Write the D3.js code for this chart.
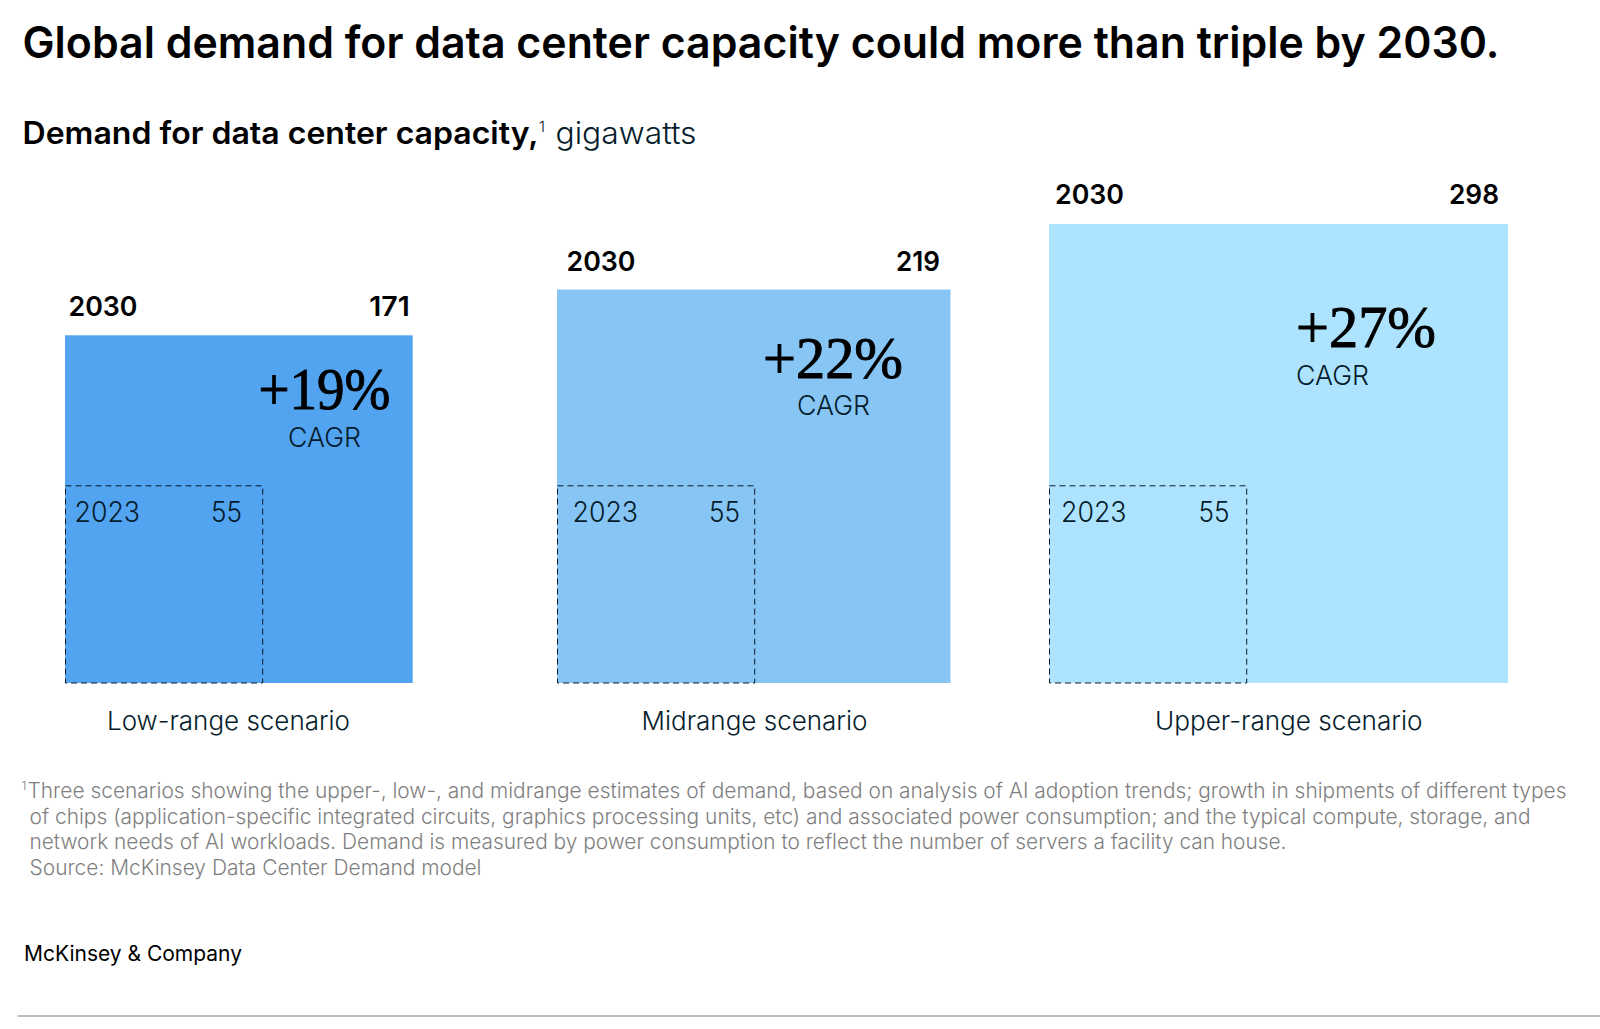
<!DOCTYPE html>
<html>
<head>
<meta charset="utf-8">
<title>Data center capacity</title>
<script src="https://cdn.jsdelivr.net/npm/d3@7"></script>
<style>
  html, body { margin: 0; padding: 0; background: #fff; }
  svg { display: block; }
  text { font-family: Inter, "Liberation Sans", sans-serif; fill: #051c2c; }
  text.heavy { fill: #000; }
</style>
</head>
<body>
<div id="chart"></div>
<script>
const scenarios = ['Low-range scenario', 'Midrange scenario', 'Upper-range scenario'];
const demand2030 = [171, 219, 298];
const demand2023 = [55, 55, 55];
const cagrLabels = ['+19%', '+22%', '+27%'];
const boxColors = ['#52a3f0', '#86c5f4', '#ade3ff'];
const footnoteLines = [
  'Three scenarios showing the upper-, low-, and midrange estimates of demand, based on analysis of AI adoption trends; growth in shipments of different types',
  'of chips (application-specific integrated circuits, graphics processing units, etc) and associated power consumption; and the typical compute, storage, and',
  'network needs of AI workloads. Demand is measured by power consumption to reflect the number of servers a facility can house.',
  'Source: McKinsey Data Center Demand model'
];

// label nudges per panel, the original places them by hand
const yearDx = [3.5, 9.5, 6];
const yearDy = [19, 19, 20];
const valueDx = [3, 10.5, 9];
const valueWidth = [40.5, 44, 50];
const cagrDx = [193.5, 206, 247];
const cagrWidth = [132, 140, 140];
const cagrDy = [74, 88.5, 123];
const cagrWordDx = [223, 240, 247];
const cagrWordDy = [112, 125.5, 161];
const startDx = [9.5, 15.5, 12];
const startValueDx = [177, 183, 180.5];
const scenarioDx = [42, 84.5, 106];
const scenarioWidth = [243, 226, 267.5];

const width = 1600;
const height = 1029;
const baseY = 683;

// Area encodes the value, so the side of each square follows a sqrt scale.
const side = d3.scaleSqrt().domain([0, 298]).range([0, 459]);
const left = d3.scalePoint().domain(scenarios).range([65, 1049]);

const svg = d3.select('#chart').append('svg')
  .attr('width', width)
  .attr('height', height)
  .attr('viewBox', [0, 0, width, height]);

// Squeeze or stretch a label so it takes the same width as in the picture.
function label(parent, str, x, y, size, weight, w) {
  const t = parent.append('text')
    .attr('x', x)
    .attr('y', y)
    .attr('font-size', size)
    .attr('font-weight', weight)
    .text(str);
  if (w) t.attr('textLength', w).attr('lengthAdjust', 'spacingAndGlyphs');
  if (weight >= 500) t.attr('class', 'heavy');
  return t;
}

label(svg, 'Global demand for data center capacity could more than triple by 2030.', 22.5, 58, 44, 600, 1477);
label(svg, 'Demand for data center capacity,', 22.5, 144, 31, 600, 516);
label(svg, '1', 539, 132, 15, 300, 6);
label(svg, 'gigawatts', 555.5, 144, 31, 300, 141);

svg.selectAll('g.panel')
  .data(scenarios)
  .join('g')
  .attr('class', 'panel')
  .each(function (name, i) {
    const g = d3.select(this);
    const x0 = left(name);
    const s = side(demand2030[i]);
    const s0 = side(demand2023[i]);
    const top = baseY - s;

    g.append('rect')
      .attr('x', x0)
      .attr('y', top)
      .attr('width', s)
      .attr('height', s)
      .attr('fill', boxColors[i]);

    g.append('rect')
      .attr('x', x0 + 0.5)
      .attr('y', baseY - s0)
      .attr('width', s0)
      .attr('height', s0)
      .attr('fill', 'none')
      .attr('stroke', '#0a1a28')
      .attr('stroke-width', 1)
      .attr('stroke-dasharray', '6 4');

    label(g, '2030', x0 + yearDx[i], top - yearDy[i], 27, 600, 69);
    label(g, demand2030[i], x0 + s - valueDx[i] - valueWidth[i], top - yearDy[i], 27, 600, valueWidth[i]);

    label(g, cagrLabels[i], x0 + cagrDx[i], top + cagrDy[i], 60, 400, cagrWidth[i])
      .style('font-family', '"Liberation Serif", serif')
      .style('fill', '#000')
      .style('stroke', '#000')
      .style('stroke-width', 0.9);
    label(g, 'CAGR', x0 + cagrWordDx[i], top + cagrWordDy[i], 27, 300, 73);

    label(g, '2023', x0 + startDx[i], baseY - 161.5, 28, 300, 65.5);
    label(g, demand2023[i], x0 + startValueDx[i] - 31, baseY - 161.5, 28, 300, 31);

    label(g, name, x0 + scenarioDx[i], 730, 26, 300, scenarioWidth[i]);
  });

const notes = svg.append('g').attr('class', 'footnote');
const noteWidth = [1539, 1501, 1257, 452];
label(notes, '1', 21.5, 790, 11, 300, 5).style('fill', '#7f7f7f');
notes.selectAll('text.line')
  .data(footnoteLines)
  .join('text')
  .attr('class', 'line')
  .attr('x', (d, i) => i === 0 ? 27.5 : 29.5)
  .attr('y', (d, i) => 798 + i * 25.6)
  .attr('font-size', 21)
  .attr('font-weight', 300)
  .attr('textLength', (d, i) => noteWidth[i])
  .attr('lengthAdjust', 'spacingAndGlyphs')
  .style('fill', '#7f7f7f')
  .text(d => d);

label(svg, 'McKinsey & Company', 24, 961, 21, 400, 218).style('fill', '#000');

svg.append('line')
  .attr('x1', 18)
  .attr('x2', width)
  .attr('y1', 1016)
  .attr('y2', 1016)
  .attr('stroke', '#a8a8a8')
  .attr('stroke-width', 1.3);
</script>
</body>
</html>
